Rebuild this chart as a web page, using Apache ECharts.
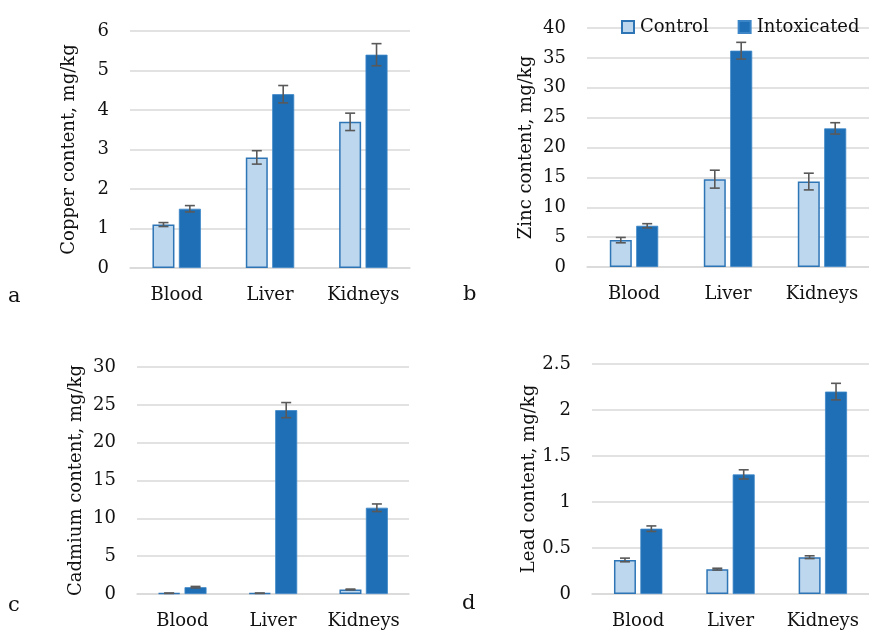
<!DOCTYPE html>
<html>
<head>
<meta charset="utf-8">
<script src="https://cdn.jsdelivr.net/npm/echarts@6/dist/echarts.min.js"></script>
<style>
  html, body { margin: 0; padding: 0; background: #fff; }
  #chart { width: 869px; height: 630px; }
</style>
</head>
<body>
<div id="chart"></div>
<script>
// Tissue groups shared by all four panels
const categories = ['Blood', 'Liver', 'Kidneys'];
const seriesNames = ['Control', 'Intoxicated'];

// Copper, mg/kg (mean and error)
const copperControl = [1.1, 2.8, 3.7];
const copperControlErr = [0.05, 0.17, 0.22];
const copperIntox = [1.5, 4.4, 5.4];
const copperIntoxErr = [0.08, 0.22, 0.28];

// Zinc, mg/kg
const zincControl = [4.5, 14.7, 14.3];
const zincControlErr = [0.45, 1.5, 1.4];
const zincIntox = [6.9, 36.2, 23.2];
const zincIntoxErr = [0.35, 1.4, 0.95];

// Cadmium, mg/kg
const cadmiumControl = [0.1, 0.1, 0.6];
const cadmiumControlErr = [0.02, 0.02, 0.05];
const cadmiumIntox = [0.9, 24.3, 11.4];
const cadmiumIntoxErr = [0.1, 1.0, 0.5];

// Lead, mg/kg
const leadControl = [0.37, 0.27, 0.40];
const leadControlErr = [0.02, 0.01, 0.015];
const leadIntox = [0.71, 1.3, 2.2];
const leadIntoxErr = [0.03, 0.05, 0.09];

// Axis titles and ranges
const axisTitles = ['Copper content, mg/kg', 'Zinc content, mg/kg', 'Cadmium content, mg/kg', 'Lead content, mg/kg'];
const axisMax = [6, 40, 30, 2.5];
const axisStep = [1, 5, 5, 0.5];
const panelLetters = ['a', 'b', 'c', 'd'];

const FONT = 'DejaVu Serif';
const BAR_W = 22;
const BAR_GAP = 0.2;
const CONTROL_FILL = '#BDD7EE';
const CONTROL_EDGE = '#2E75B6';
const INTOX_FILL = '#1F6FB6';
const ERR_COLOR = '#595959';
const GRID_COLOR = '#d9d9d9';
const TEXT_COLOR = '#111111';

const panels = [
  { ctrl: copperControl, ctrlErr: copperControlErr, intox: copperIntox, intoxErr: copperIntoxErr },
  { ctrl: zincControl, ctrlErr: zincControlErr, intox: zincIntox, intoxErr: zincIntoxErr },
  { ctrl: cadmiumControl, ctrlErr: cadmiumControlErr, intox: cadmiumIntox, intoxErr: cadmiumIntoxErr },
  { ctrl: leadControl, ctrlErr: leadControlErr, intox: leadIntox, intoxErr: leadIntoxErr }
];

const grids = [
  { left: 130, width: 280, top: 31, height: 237 },
  { left: 587, width: 282, top: 28, height: 239 },
  { left: 137, width: 272, top: 367, height: 227 },
  { left: 592, width: 277, top: 364, height: 231 }
];

// Error bar drawn centred on one of the two bars of a category
function errorBar(side) {
  const offset = side * (BAR_W * (1 + BAR_GAP)) / 2;
  return function (params, api) {
    const i = api.value(0), v = api.value(1), e = api.value(2);
    const hi = api.coord([i, v + e]);
    const lo = api.coord([i, v - e]);
    const x = hi[0] + offset;
    const cap = 5;
    const style = { stroke: ERR_COLOR, lineWidth: 1.6 };
    return {
      type: 'group',
      children: [
        { type: 'line', shape: { x1: x, y1: hi[1], x2: x, y2: lo[1] }, style },
        { type: 'line', shape: { x1: x - cap, y1: hi[1], x2: x + cap, y2: hi[1] }, style },
        { type: 'line', shape: { x1: x - cap, y1: lo[1], x2: x + cap, y2: lo[1] }, style }
      ]
    };
  };
}

const xAxis = [], yAxis = [], series = [];
panels.forEach((p, k) => {
  xAxis.push({
    type: 'category', gridIndex: k, data: categories,
    axisTick: { show: false },
    axisLine: { lineStyle: { color: GRID_COLOR, width: 1.5 } },
    axisLabel: { interval: 0, fontFamily: FONT, fontSize: 18, color: TEXT_COLOR, margin: 18 }
  });
  yAxis.push({
    type: 'value', gridIndex: k, min: 0, max: axisMax[k], interval: axisStep[k],
    name: axisTitles[k], nameLocation: 'middle', nameGap: 52,
    nameTextStyle: { fontFamily: FONT, fontSize: 18, color: TEXT_COLOR },
    axisLine: { show: false }, axisTick: { show: false },
    splitLine: { lineStyle: { color: GRID_COLOR, width: 1.5 } },
    axisLabel: { fontFamily: FONT, fontSize: 18, color: TEXT_COLOR, margin: 21 }
  });
  series.push({
    name: 'Control', type: 'bar', xAxisIndex: k, yAxisIndex: k,
    data: p.ctrl, barWidth: BAR_W, barGap: (BAR_GAP * 100) + '%',
    itemStyle: { color: CONTROL_FILL, borderColor: CONTROL_EDGE, borderWidth: 1.5 },
    emphasis: { disabled: true }, animation: false
  });
  series.push({
    name: 'Intoxicated', type: 'bar', xAxisIndex: k, yAxisIndex: k,
    data: p.intox, barWidth: BAR_W, barGap: (BAR_GAP * 100) + '%',
    itemStyle: { color: INTOX_FILL, borderColor: '#3c86c8', borderWidth: 0.8 },
    emphasis: { disabled: true }, animation: false
  });
  series.push({
    type: 'custom', xAxisIndex: k, yAxisIndex: k, z: 5,
    renderItem: errorBar(-1),
    data: p.ctrl.map((v, i) => [i, v, p.ctrlErr[i]]),
    encode: { x: 0, y: 1 }, silent: true, animation: false
  });
  series.push({
    type: 'custom', xAxisIndex: k, yAxisIndex: k, z: 5,
    renderItem: errorBar(1),
    data: p.intox.map((v, i) => [i, v, p.intoxErr[i]]),
    encode: { x: 0, y: 1 }, silent: true, animation: false
  });
});

// Panel letters a-d
const letterPos = [[8, 298], [463, 296], [8, 607], [462, 605]];
const graphic = panelLetters.map((t, k) => ({
  type: 'text', left: letterPos[k][0], top: letterPos[k][1] - 12,
  style: { text: t, font: '21px "' + FONT + '"', fill: TEXT_COLOR }
}));

const chart = echarts.init(document.getElementById('chart'), null, { renderer: 'canvas' });
chart.setOption({
  animation: false,
  grid: grids,
  xAxis, yAxis, series, graphic,
  legend: {
    data: seriesNames, left: 616, top: 13,
    itemWidth: 12, itemHeight: 12, itemGap: 29,
    icon: 'rect', selectedMode: false,
    textStyle: { fontFamily: FONT, fontSize: 18, color: TEXT_COLOR, padding: [0, 0, 0, 1] }
  }
});
</script>
</body>
</html>
